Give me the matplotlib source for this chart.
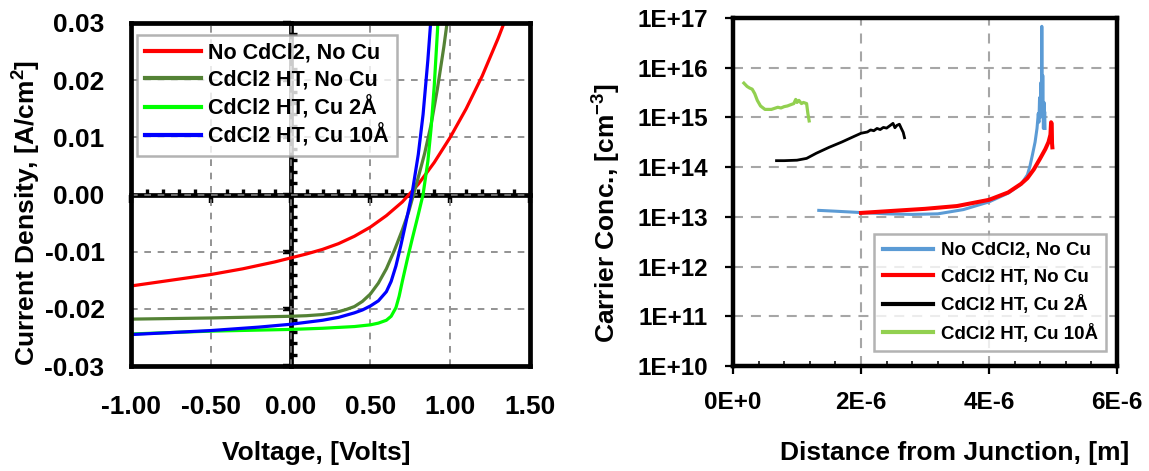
import matplotlib
matplotlib.use("Agg")
import matplotlib.pyplot as plt
from matplotlib.ticker import MultipleLocator, FixedLocator, LogLocator, NullFormatter, FuncFormatter
import numpy as np

plt.rcParams['font.family'] = ['Liberation Sans', 'DejaVu Sans']
plt.rcParams['font.weight'] = 'bold'
plt.rcParams['mathtext.fontset'] = 'custom'
plt.rcParams['mathtext.rm'] = 'Liberation Sans:bold'
plt.rcParams['mathtext.bf'] = 'Liberation Sans:bold'
plt.rcParams['mathtext.default'] = 'bf'

# ---------------- Left panel: J-V data ----------------
jv_labels = ["No CdCl2, No Cu", "CdCl2 HT, No Cu", "CdCl2 HT, Cu 2Å", "CdCl2 HT, Cu 10Å"]
jv_colors = ["#ff0000", "#548235", "#00ff00", "#0000ff"]

v_red = [-1.0, -0.9, -0.8, -0.7, -0.6, -0.5, -0.4, -0.3, -0.2, -0.1, 0.0, 0.1, 0.2, 0.3, 0.4, 0.5,
         0.6, 0.7, 0.8, 0.9, 1.0, 1.1, 1.2, 1.3, 1.34]
j_red = [-0.0160, -0.0156, -0.0152, -0.0148, -0.0144, -0.0140, -0.0135, -0.0130, -0.0124, -0.0118,
         -0.0111, -0.0104, -0.0096, -0.0086, -0.0073, -0.0057, -0.0037, -0.0013, 0.0018, 0.0056,
         0.0100, 0.0150, 0.0207, 0.0273, 0.0302]

v_dkgreen = [-1.0, -0.5, 0.0, 0.1, 0.2, 0.25, 0.3, 0.35, 0.4, 0.45, 0.5, 0.55, 0.6, 0.65, 0.7, 0.74,
             0.77, 0.8, 0.84, 0.88, 0.92, 0.96, 0.99]
j_dkgreen = [-0.0218, -0.0216, -0.0213, -0.0212, -0.0210, -0.0208, -0.0205, -0.0201, -0.0196, -0.0187,
             -0.0174, -0.0155, -0.0130, -0.0098, -0.0062, -0.0030, 0.0, 0.0030, 0.0072, 0.0122,
             0.0185, 0.0258, 0.0320]

v_green = [-1.0, -0.5, 0.0, 0.2, 0.4, 0.5, 0.55, 0.6, 0.63, 0.66, 0.68, 0.7, 0.73, 0.76, 0.8, 0.83,
           0.86, 0.88, 0.9, 0.92, 0.93]
j_green = [-0.0244, -0.0239, -0.0236, -0.0234, -0.0231, -0.0228, -0.0225, -0.0220, -0.0213, -0.0198,
           -0.0178, -0.0152, -0.0115, -0.0080, -0.0035, 0.0, 0.0058, 0.0115, 0.0190, 0.0285, 0.0340]

v_blue = [-1.0, -0.5, -0.2, 0.0, 0.2, 0.3, 0.4, 0.45, 0.5, 0.55, 0.6, 0.63, 0.66, 0.69, 0.72, 0.76,
          0.8, 0.83, 0.86, 0.88]
j_blue = [-0.0245, -0.0238, -0.0232, -0.0227, -0.0220, -0.0215, -0.0207, -0.0202, -0.0195, -0.0186,
          -0.0170, -0.0152, -0.0125, -0.0090, -0.0052, 0.0, 0.0070, 0.0140, 0.0235, 0.0310]

# ---------------- Right panel: C-V profile data ----------------
cv_labels = ["No CdCl2, No Cu", "CdCl2 HT, No Cu", "CdCl2 HT, Cu 2Å", "CdCl2 HT, Cu 10Å"]
cv_colors = ["#5b9bd5", "#ff0000", "#000000", "#92d050"]

x_nocd = [1.34e-6, 1.6e-6, 2.0e-6, 2.4e-6, 2.8e-6, 3.2e-6, 3.6e-6, 4.0e-6, 4.3e-6, 4.5e-6, 4.6e-6,
          4.64e-6, 4.68e-6, 4.72e-6, 4.75e-6, 4.77e-6, 4.78e-6, 4.79e-6, 4.80e-6, 4.81e-6, 4.82e-6,
          4.825e-6, 4.83e-6, 4.835e-6, 4.84e-6, 4.845e-6, 4.85e-6, 4.86e-6, 4.865e-6, 4.87e-6, 4.875e-6]
n_nocd = [1.35e13, 1.30e13, 1.22e13, 1.15e13, 1.12e13, 1.15e13, 1.40e13, 2.0e13, 3.0e13, 4.5e13, 7.0e13,
          1.05e14, 1.8e14, 3.2e14, 6.0e14, 1.2e15, 8.0e14, 2.5e15, 1.0e15, 5.0e15, 1.5e15,
          6.8e16, 3.0e15, 1.2e15, 7.0e15, 1.5e15, 6.0e14, 2.0e15, 8.0e14, 1.3e15, 6.0e14]

x_cdcl = [2.0e-6, 2.5e-6, 3.0e-6, 3.5e-6, 4.0e-6, 4.3e-6, 4.5e-6, 4.6e-6, 4.7e-6, 4.8e-6, 4.88e-6, 4.93e-6,
          4.96e-6, 4.97e-6, 4.98e-6, 4.985e-6, 4.99e-6]
n_cdcl = [1.2e13, 1.32e13, 1.45e13, 1.65e13, 2.2e13, 3.1e13, 4.6e13, 6.0e13, 9.0e13, 1.5e14, 2.3e14, 3.2e14,
          4.5e14, 8.0e14, 7.5e14, 3.0e14, 2.5e14]

x_cu2 = [0.68e-6, 0.8e-6, 1.0e-6, 1.15e-6, 1.3e-6, 1.5e-6, 1.7e-6, 1.9e-6, 2.0e-6, 2.1e-6, 2.15e-6, 2.2e-6,
         2.25e-6, 2.3e-6, 2.35e-6, 2.4e-6, 2.45e-6, 2.5e-6, 2.53e-6, 2.56e-6, 2.6e-6, 2.63e-6, 2.66e-6, 2.68e-6]
n_cu2 = [1.35e14, 1.35e14, 1.38e14, 1.5e14, 1.9e14, 2.5e14, 3.2e14, 4.2e14, 4.8e14, 5.1e14, 5.6e14, 5.4e14,
         6.0e14, 5.7e14, 6.3e14, 6.1e14, 6.8e14, 7.6e14, 6.2e14, 6.9e14, 7.3e14, 6.0e14, 5.0e14, 3.9e14]

x_cu10 = [0.17e-6, 0.22e-6, 0.26e-6, 0.3e-6, 0.34e-6, 0.38e-6, 0.43e-6, 0.5e-6, 0.6e-6, 0.7e-6, 0.75e-6,
          0.8e-6, 0.85e-6, 0.9e-6, 0.95e-6, 0.98e-6, 1.0e-6, 1.03e-6, 1.07e-6, 1.1e-6, 1.15e-6, 1.17e-6, 1.19e-6]
n_cu10 = [4.9e15, 4.2e15, 3.9e15, 3.7e15, 3.0e15, 2.2e15, 1.7e15, 1.45e15, 1.45e15, 1.6e15, 1.55e15,
          1.65e15, 1.7e15, 1.8e15, 1.9e15, 2.3e15, 2.0e15, 2.2e15, 1.9e15, 2.0e15, 1.9e15, 1.2e15, 8.5e14]

x_ticks_right = [0, 2e-6, 4e-6, 6e-6]
x_ticklabels_right = ["0E+0", "2E-6", "4E-6", "6E-6"]
y_ticks_right = [1e10, 1e11, 1e12, 1e13, 1e14, 1e15, 1e16, 1e17]
y_ticklabels_right = ["1E+10", "1E+11", "1E+12", "1E+13", "1E+14", "1E+15", "1E+16", "1E+17"]

W, H = 1149, 471
fig = plt.figure(figsize=(W / 100, H / 100), dpi=100)


def frac(x0, y0, x1, y1):
    return [x0 / W, 1 - y1 / H, (x1 - x0) / W, (y1 - y0) / H]


# ======== Left axes: zero-crossing axes with ticks (underneath) ========
axz = fig.add_axes(frac(131, 23, 530, 366))
axz.set_xlim(-1.0, 1.5)
axz.set_ylim(-0.03, 0.03)
axz.patch.set_visible(False)
axz.spines['top'].set_visible(False)
axz.spines['right'].set_visible(False)
axz.spines['left'].set_position(('data', 0))
axz.spines['bottom'].set_position(('data', 0))
axz.spines['left'].set_linewidth(3.4)
axz.spines['bottom'].set_linewidth(3.4)
axz.xaxis.set_major_locator(MultipleLocator(0.5))
axz.yaxis.set_major_locator(MultipleLocator(0.01))
axz.xaxis.set_minor_locator(MultipleLocator(0.1))
axz.yaxis.set_minor_locator(MultipleLocator(0.002))
axz.tick_params(which='major', direction='out', length=6, width=3.2, labelbottom=False, labelleft=False)
axz.tick_params(which='minor', direction='in', length=4.5, width=2.4)
axz.set_zorder(0)

# ======== Left axes: data ========
ax = fig.add_axes(frac(131, 23, 530, 366))
ax.set_zorder(1)
ax.patch.set_visible(False)
for xs, ys, c, lab in zip([v_red, v_dkgreen, v_green, v_blue], [j_red, j_dkgreen, j_green, j_blue],
                          jv_colors, jv_labels):
    ax.plot(xs, ys, color=c, lw=2.3, label=lab, zorder=3)
ax.set_xlim(-1.0, 1.5)
ax.set_ylim(-0.03, 0.03)
ax.xaxis.set_major_locator(MultipleLocator(0.5))
ax.yaxis.set_major_locator(MultipleLocator(0.01))
ax.xaxis.set_major_formatter(FuncFormatter(lambda v, p: f"{v:.2f}".replace("-0.00", "0.00")))
ax.yaxis.set_major_formatter(FuncFormatter(lambda v, p: f"{v:.2f}".replace("-0.00", "0.00")))
ax.tick_params(axis='both', which='major', length=0, labelsize=19)
ax.tick_params(axis='x', pad=21)
ax.tick_params(axis='y', pad=19)
for lab in ax.get_xticklabels() + ax.get_yticklabels():
    lab.set_fontweight('bold')
ax.grid(True, which='major', color='#808080', lw=1.2, linestyle=(0, (4, 4)), zorder=1)
for s in ax.spines.values():
    s.set_linewidth(3.4)
    s.set_zorder(5)

ax.set_xlabel("Voltage, [Volts]", fontsize=19, fontweight='bold', va='center')
ax.xaxis.set_label_coords(0.464, -0.254)
ax.set_ylabel("Current Density, [A/cm$^{2}$]", fontsize=19, fontweight='bold', va='center')
ax.yaxis.set_label_coords(-0.26, 0.445)

leg = ax.legend(loc='upper left', bbox_to_anchor=(0.016, 0.964), fontsize=15.5, frameon=True,
                fancybox=False, handlelength=2.6, handletextpad=0.35, borderpad=0.35,
                labelspacing=0.25, borderaxespad=0.0)
leg.get_frame().set_edgecolor('#a0a0a0')
leg.get_frame().set_linewidth(1.8)
for t in leg.get_texts():
    t.set_fontweight('bold')
for h in leg.get_lines():
    h.set_linewidth(3.0)
leg.set_zorder(6)

# ======== Right axes ========
bx = fig.add_axes(frac(733, 18, 1117, 366))
bx.set_yscale('log')
for xs, ys, c, lab, lw in zip([x_nocd, x_cdcl, x_cu2, x_cu10], [n_nocd, n_cdcl, n_cu2, n_cu10],
                              cv_colors, cv_labels, [2.2, 2.9, 2.0, 2.3]):
    bx.plot(xs, ys, color=c, lw=lw, label=lab, zorder=3)
bx.set_xlim(0, 6e-6)
bx.set_ylim(1e10, 1e17)
bx.xaxis.set_major_locator(FixedLocator(x_ticks_right))
bx.set_xticklabels(x_ticklabels_right)
bx.xaxis.set_minor_locator(MultipleLocator(0.4e-6))
bx.yaxis.set_major_locator(FixedLocator(y_ticks_right))
bx.set_yticklabels(y_ticklabels_right)
bx.yaxis.set_minor_locator(LogLocator(base=10, subs=np.arange(2, 10)))
bx.yaxis.set_minor_formatter(NullFormatter())
bx.tick_params(which='major', direction='out', length=6, width=1.6, labelsize=17.5)
bx.tick_params(which='minor', direction='in', length=3.5, width=1.1)
bx.tick_params(axis='x', which='major', pad=12)
bx.tick_params(axis='y', which='major', pad=12)
for lab in bx.get_xticklabels() + bx.get_yticklabels():
    lab.set_fontweight('bold')
bx.grid(True, which='major', color='#a6a6a6', lw=1.5, linestyle=(0, (4.8, 3.8)), zorder=1)
for s in bx.spines.values():
    s.set_linewidth(3.2)
    s.set_zorder(5)

bx.set_xlabel("Distance from Junction, [m]", fontsize=19, fontweight='bold', va='center')
bx.xaxis.set_label_coords(0.576, -0.25)
bx.set_ylabel("Carrier Conc., [cm$^{-3}$]", fontsize=19, fontweight='bold', va='center')
bx.yaxis.set_label_coords(-0.328, 0.44)

leg2 = bx.legend(loc='lower right', bbox_to_anchor=(0.972, 0.043), fontsize=13.5, frameon=True,
                 fancybox=False, handlelength=2.7, handletextpad=0.4, borderpad=0.45,
                 labelspacing=0.5, borderaxespad=0.0)
leg2.get_frame().set_edgecolor('#a0a0a0')
leg2.get_frame().set_linewidth(1.8)
for t in leg2.get_texts():
    t.set_fontweight('bold')
for h in leg2.get_lines():
    h.set_linewidth(3.0)

fig.savefig("out.png", dpi=100)
